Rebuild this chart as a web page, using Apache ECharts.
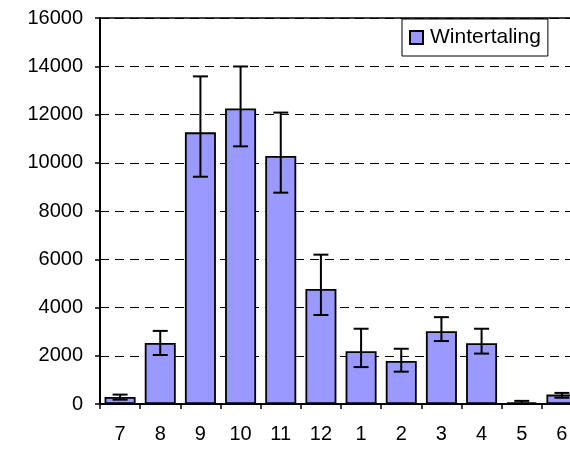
<!DOCTYPE html>
<html>
<head>
<meta charset="utf-8">
<script src="https://cdn.jsdelivr.net/npm/echarts@6/dist/echarts.min.js"></script>
<style>html,body{margin:0;padding:0;background:#fff;overflow:hidden}#c{width:590px;height:449px}</style>
</head>
<body>
<div id="c"></div>
<script>
var categories = ['7','8','9','10','11','12','1','2','3','4','5','6'];
var values     = [290, 2530, 11260, 12250, 10280, 4770, 2190, 1780, 3020, 2520, 70, 390];
var errLow     = [180, 2030, 9420, 10680, 8760, 3690, 1530, 1340, 2610, 2090, 10, 260];
var errHigh    = [390, 3030, 13580, 13990, 12080, 6190, 3120, 2290, 3600, 3120, 130, 460];
var yTicks     = [0, 2000, 4000, 6000, 8000, 10000, 12000, 14000, 16000];

var font = 'Arial, "Liberation Sans", sans-serif';
var chart = echarts.init(document.getElementById('c'), null, {renderer: 'canvas'});
var errData = categories.map(function (c, i) { return [i, errLow[i], errHigh[i]]; });

chart.setOption({
  animation: false,
  backgroundColor: '#fff',
  grid: {left: 100, top: 18, width: 482, height: 386, show: true, borderColor: '#000', borderWidth: 1.5, backgroundColor: 'transparent'},
  legend: {
    data: ['Wintertaling'],
    left: 402, top: 19,
    orient: 'vertical',
    backgroundColor: '#fff',
    borderColor: '#000', borderWidth: 1,
    padding: [8, 7, 8, 7],
    itemWidth: 13, itemHeight: 13, itemGap: 6,
    textStyle: {fontFamily: font, fontSize: 21, color: '#000', padding: [0, 0, 0, 2]},
    icon: 'rect'
  },
  xAxis: {
    type: 'category',
    data: categories,
    axisLine: {lineStyle: {color: '#000', width: 2}},
    axisTick: {show: true, length: 5, lineStyle: {color: '#000', width: 1.5}, alignWithLabel: false},
    axisLabel: {fontFamily: font, fontSize: 20, color: '#000', margin: 20},
    splitLine: {show: false}
  },
  yAxis: {
    type: 'value',
    min: 0, max: 16000, interval: 2000,
    axisLine: {show: true, lineStyle: {color: '#000', width: 2}},
    axisTick: {show: true, length: 5, lineStyle: {color: '#000', width: 1.5}},
    axisLabel: {fontFamily: font, fontSize: 20, color: '#000', margin: 17,
      formatter: function (v) { return yTicks.indexOf(v) >= 0 ? String(v) : ''; }},
    splitLine: {show: true, lineStyle: {color: '#000', width: 1, type: [9, 6]}}
  },
  series: [
    {
      name: 'Wintertaling',
      type: 'bar',
      data: values,
      barWidth: 31,
      itemStyle: {color: '#9999FF', borderColor: '#000', borderWidth: 1.8},
      z: 2
    },
    {
      type: 'custom',
      data: errData,
      z: 3,
      renderItem: function (params, api) {
        var x = api.value(0);
        var lo = api.coord([x, api.value(1)]);
        var hi = api.coord([x, api.value(2)]);
        var hw = 7.5;
        var st = {stroke: '#000', lineWidth: 2};
        return {
          type: 'group',
          children: [
            {type: 'line', shape: {x1: lo[0], y1: lo[1], x2: hi[0], y2: hi[1]}, style: st},
            {type: 'line', shape: {x1: lo[0] - hw, y1: lo[1], x2: lo[0] + hw, y2: lo[1]}, style: st},
            {type: 'line', shape: {x1: hi[0] - hw, y1: hi[1], x2: hi[0] + hw, y2: hi[1]}, style: st}
          ]
        };
      }
    }
  ]
});
</script>
</body>
</html>
